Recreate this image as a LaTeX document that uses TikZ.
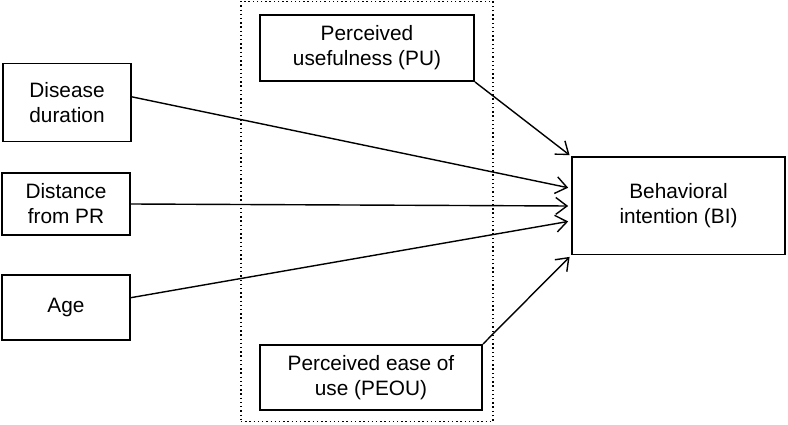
\documentclass[tikz,border=0pt]{standalone}
\usepackage{fontspec}
\setmainfont{Liberation Sans}
\usepackage{tikz}
\usetikzlibrary{arrows.meta}

\tikzset{
  factor/.style={draw, line width=1.4pt, align=center, inner sep=2pt,
    font=\fontsize{14.8pt}{17.8pt}\selectfont},
  effect/.style={line width=1pt, -{Straight Barb[length=8pt,width=12pt,line width=1pt]}},
}

\begin{document}
\begin{tikzpicture}[x=0.025cm, y=-0.025cm]
    \useasboundingbox (0,0) rectangle (788,425);
    % dotted frame round the TAM constructs
    \node[draw, dotted, line width=1pt, minimum width=6.3cm, minimum height=10.5cm] (tam) at (367,211.5) {};
    % external factors
    \node[factor, minimum width=3.2cm, minimum height=1.95cm] (dis) at (67,102.5) {Disease\\duration};
    \node[factor, minimum width=3.175cm, minimum height=1.55cm] (dist) at (66,204) {Distance\\from PR};
    \node[factor, minimum width=3.2cm, minimum height=1.625cm] (age) at (66,307.5) {Age};
    % TAM constructs
    \node[factor, minimum width=5.35cm, minimum height=1.65cm] (pu) at (367,48) {Perceived\\usefulness (PU)};
    \node[factor, minimum width=5.55cm, minimum height=1.625cm] (peou) at (371,377.5) {Perceived ease of\\use (PEOU)};
    \node[factor, minimum width=5.325cm, minimum height=2.425cm] (bi) at (678.5,206) {Behavioral\\intention (BI)};
    % paths
    \draw[effect] ([yshift=4pt]dis.east) -- ([xshift=-2pt,yshift=13pt]bi.west);
    \draw[effect] (dist.east) -- ([xshift=-2pt]bi.west);
    \draw[effect] ([yshift=7pt]age.east) -- ([xshift=-2pt,yshift=-11pt]bi.west);
    \draw[effect] (pu.south east) -- ([xshift=-1pt,yshift=1pt]bi.north west);
    \draw[effect] (peou.north east) -- ([xshift=-1pt,yshift=-1pt]bi.south west);
\end{tikzpicture}
\end{document}
